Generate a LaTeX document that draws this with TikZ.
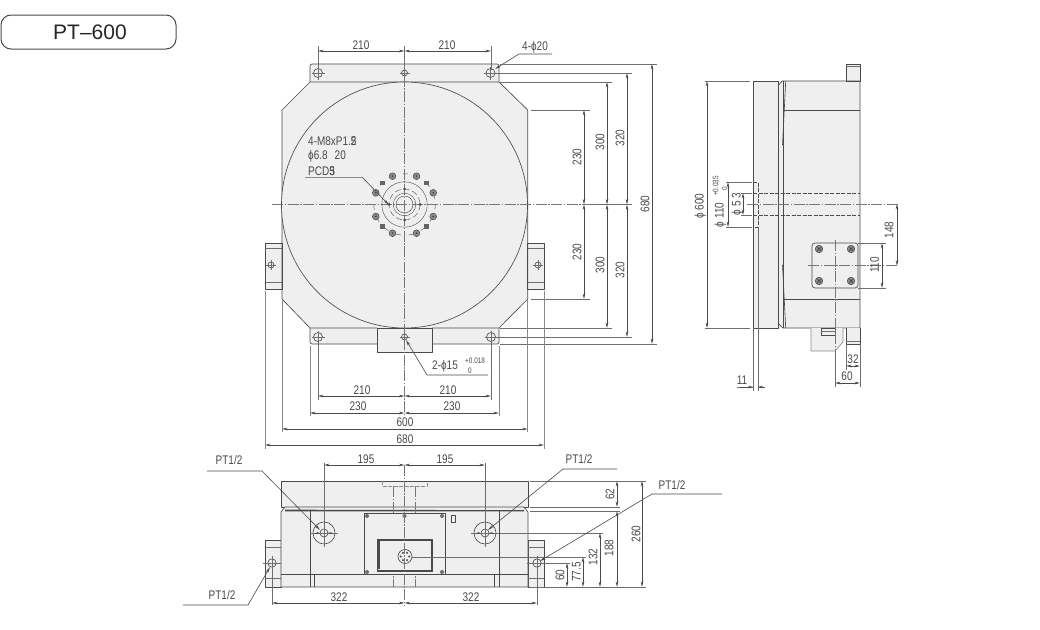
\documentclass[tikz,border=0pt]{standalone}
\usepackage{fontspec}
\setmainfont[FakeStretch=0.8]{Liberation Sans}
\newfontfamily\titlefont{Liberation Sans}
\usetikzlibrary{arrows.meta}
\definecolor{ink}{HTML}{4A4A4A}
\definecolor{body}{HTML}{EFEFEF}
\definecolor{soft}{HTML}{8A8A8A}
\tikzset{
 outl/.style={draw=ink,line width=.65pt,line join=round},
 solid body/.style={outl,fill=body},
 extl/.style={draw=ink!80,line width=.5pt},
 softl/.style={draw=soft,line width=.9pt},
 cen/.style={draw=ink!75,line width=.6pt,dash pattern=on 11pt off 1.5pt on 1.5pt off 1.5pt},
 hid/.style={draw=ink,line width=.6pt,dash pattern=on 4pt off 1.5pt},
 dimn/.style={draw=ink,line width=.6pt,{Stealth[length=5.5pt,width=2.6pt]}-{Stealth[length=5.5pt,width=2.6pt]}},
 lead/.style={draw=ink,line width=.6pt,-{Stealth[length=6pt,width=2.6pt]}},
 lab/.style={text=ink,font=\fontsize{12.5}{13}\selectfont,inner sep=0pt},
 rlab/.style={lab,rotate=90},
 tol/.style={text=ink,font=\fontsize{8}{8.5}\selectfont,inner sep=0pt},
 rtol/.style={tol,rotate=90},
 bolt/.style={draw=ink,line width=.5pt,fill=soft},
 dotb/.style={fill=ink},
}
\begin{document}
\begin{tikzpicture}[x=1pt,y=-1pt]
\useasboundingbox (0,0) rectangle (1040,629);
% title
\draw[draw=ink,line width=1pt,rounded corners=10pt,fill=white] (1,15) rectangle (176,49);
\node[text=black!85,font=\titlefont\fontsize{21}{23}\selectfont,inner sep=0pt] (title) at (90,32) {PT–600};

%%%%% TOP VIEW
\fill[body] (310,82) -- (282,110) -- (282,299) -- (310,328) -- (499,328) -- (527.7,299) -- (527.7,110) -- (499,82) -- cycle;
\draw[solid body] (265,243) rectangle (282,289);
\draw[solid body] (527.7,243) rectangle (544,289);
\draw[extl] (265,248) -- (282,248) (265,282) -- (282,282) (527.7,248) -- (544,248) (527.7,282) -- (544,282);
\draw[solid body,rounded corners=2pt] (310,82) -- (310,64) -- (499,64) -- (499,82);
\draw[solid body,rounded corners=2pt] (310,328) -- (310,344) -- (499,344) -- (499,328);
\draw[outl,fill=body] (377,328) rectangle (432,352);
\draw[outl] (310,82) -- (282,110) -- (282,299) -- (310,328) (499,328) -- (527.7,299) -- (527.7,110) -- (499,82) (310,82) -- (499,82) (310,328) -- (377,328) (432,328) -- (499,328);
\draw[outl,fill=body] (404.5,205) circle (123);
% holes
\foreach \hx/\hy/\hr in {318/73/4.5,404.5/73/3,490.5/73/4.5,318/337/4.5,491/337/4.5,404.5/337/3,271/265/3,538/265/3}{
  \draw[outl] (\hx,\hy) circle (\hr);
  \draw[extl] (\hx-\hr-2,\hy) -- (\hx+\hr+2,\hy) (\hx,\hy-\hr-2) -- (\hx,\hy+\hr+2);
}
% centre lines
\draw[cen] (404.5,60) -- (404.5,416);
\draw[cen] (272,204.5) -- (590,204.5);
% centre detail
\draw[outl,line width=.4pt] (404.5,204.5) circle (8.5) (404.5,204.5) circle (11.3) (404.5,204.5) circle (22.7);
\draw[outl,line width=.4pt,dash pattern=on 6pt off 3pt] (404.5,204.5) circle (15.5);
\draw[outl,line width=.4pt,dash pattern=on 5pt off 8pt] (404.5,204.5) circle (30.7);
\foreach \dx/\dy in {404.5/189,404.5/220,389/204.5,420/204.5}{\fill[dotb] (\dx,\dy) circle (1.5);}
\foreach \ox/\oy in {-12/-28.3,12/-28.3,28.7/-11.7,28.7/12,12/28.7,-12/28.7,-28.7/12,-28.7/-11.7}{
  \draw[bolt] (404.5+\ox,204.5+\oy) circle (3.4);
  \fill[ink] (404.5+\ox,204.5+\oy) circle (1);
}
\foreach \ox/\oy in {-22/-21.7,22/-21.7,22/22,-22/22}{
  \fill[ink!85] (404.5+\ox-2.3,204.5+\oy-2.3) rectangle (404.5+\ox+2.3,204.5+\oy+2.3);
}
% top dims
\draw[extl] (318,46) -- (318,70) (404.5,46) -- (404.5,60) (491,46) -- (491,70);
\draw[dimn] (318,51) -- (404.5,51);
\draw[dimn] (404.5,51) -- (491,51);
\node[lab] (t210a) at (361,45) {210};
\node[lab] (t210b) at (447,45) {210};
\coordinate (h20) at (495,69);
\coordinate (h20b) at (519,54);
\coordinate (h20c) at (552,54);
\draw[lead] (h20c) -- (h20b) -- (h20);
\node[lab] (t420) at (535,47.5) {4-ϕ20};
% note
\node[lab,anchor=west] (n1) at (308,141) {4-M8xP1.\rlap{2}5};
\node[lab,anchor=west] (n2) at (308,156) {ϕ6.8\hspace{7pt}20};
\node[lab,anchor=west] (n3) at (308,171) {PCD\rlap{5}3};
\coordinate (na) at (305,177);
\coordinate (nb) at (362,177);
\coordinate (nc) at (389,205);
\draw[softl] (na) -- (nb);
\draw[lead] (nb) -- (nc);
% right ext lines
\draw[extl] (531,110) -- (590,110) (531,299) -- (590,299);
\draw[extl] (500,82) -- (612,82) (500,328) -- (612,328);
\draw[extl] (496,73) -- (632,73) (496,337) -- (632,337);
\draw[extl] (500,64) -- (657,64) (500,344) -- (657,344);
\draw[extl] (590,204.5) -- (632,204.5);
\draw[dimn] (584,110) -- (584,204.5);
\draw[dimn] (584,204.5) -- (584,299);
\draw[dimn] (607,82) -- (607,204.5);
\draw[dimn] (607,204.5) -- (607,328);
\draw[dimn] (627,73) -- (627,204.5);
\draw[dimn] (627,204.5) -- (627,337);
\draw[dimn] (652,64) -- (652,344);
\node[rlab] (r230a) at (577,157) {230};
\node[rlab] (r230b) at (577,252) {230};
\node[rlab] (r300a) at (600,142) {300};
\node[rlab] (r300b) at (600,265) {300};
\node[rlab] (r320a) at (620,138) {320};
\node[rlab] (r320b) at (620,270) {320};
\node[rlab] (r680) at (645,204) {680};
% bottom dims
\draw[extl] (318,341) -- (318,400) (491,341) -- (491,400);
\draw[softl,line width=.6pt] (310,346) -- (310,416) (499,346) -- (499,416) (282,300) -- (282,432) (527.7,300) -- (527.7,432) (265,291) -- (265,449) (544,291) -- (544,449);
\draw[dimn] (318,396) -- (404.5,396);
\draw[dimn] (404.5,396) -- (491,396);
\draw[dimn] (310,413) -- (404.5,413);
\draw[dimn] (404.5,413) -- (499,413);
\draw[dimn] (282,429) -- (527.7,429);
\draw[dimn] (265,445) -- (544,445);
\node[lab] (b210a) at (362,390) {210};
\node[lab] (b210b) at (448,390) {210};
\node[lab] (b230a) at (358,406) {230};
\node[lab] (b230b) at (452,406) {230};
\node[lab] (b600) at (405,422) {600};
\node[lab] (b680) at (405,439) {680};
\coordinate (ba) at (488,375);
\coordinate (bb) at (427,375);
\coordinate (bc) at (406,340);
\draw[lead] (ba) -- (bb) -- (bc);
\node[lab,anchor=west] (b15) at (432,366) {2-ϕ15};
\node[tol,anchor=west] (b15u) at (465,361) {+0.018};
\node[tol,anchor=west] (b15d) at (468,370.5) {0};

%%%%% SIDE VIEW
\fill[body] (753,81) rectangle (860,328);
\draw[solid body] (846,64) rectangle (860,81);
\draw[extl] (846,66) -- (860,66);
\draw[outl] (753,81) -- (778,81) -- (778,328) -- (753,328) -- cycle;
\draw[outl] (778,86) -- (782,81) -- (860,81) -- (860,328) -- (782.7,328) -- (778,323);
\draw[outl] (783,81) -- (783,328);
\draw[outl] (785.7,81) -- (782.5,145);
\draw[outl] (782.5,265) -- (785.7,328);
\draw[outl] (784,110) -- (860,110) (784,299) -- (860,299);
\draw[solid body,draw=soft] (811,328) -- (811,351) -- (835,351) -- (843,342) -- (843,328);
\draw[solid body] (846,328) -- (846,344) -- (860,344) -- (860,328);
\draw[extl] (846,341) -- (860,341);
\draw[outl] (821,328) rectangle (835,335);
\draw[extl] (821,331.5) -- (835,331.5);
\draw[hid] (753,193) -- (860,193) (753,215) -- (860,215);
\draw[hid] (753,182) -- (758,182) -- (758,227) -- (753,227);
\draw[extl] (758,227) -- (758,391) (753,328) -- (753,391);
% plate
\draw[outl,rounded corners=3pt] (812,243) rectangle (858,288);
\foreach \bx/\by in {819/249,851/249,819/281,851/281}{
  \draw[bolt] (\bx,\by) circle (3.8);
  \draw[ink,line width=.7pt] (\bx-2,\by-2) -- (\bx+2,\by+2) (\bx-2,\by+2) -- (\bx+2,\by-2);
}
\draw[cen] (835,240) -- (835,387);
\draw[cen] (808,265.7) -- (898,265.7);
\draw[cen] (747,204) -- (898,204);
\draw[extl] (835,351) -- (835,387) (846,344) -- (846,370) (860,344) -- (860,387);
% side dims
\draw[extl] (705,81) -- (750,81) (705,328) -- (750,328);
\draw[extl] (726,182) -- (752,182) (726,227) -- (752,227) (741,193) -- (752,193) (741,215) -- (752,215);
\draw[extl] (858,243) -- (886,243) (858,288) -- (886,288);
\draw[dimn] (707,81) -- (707,328);
\draw[dimn] (728,182) -- (728,227);
\draw[dimn] (743,193) -- (743,215);
\draw[dimn] (882,243) -- (882,288);
\draw[dimn] (897,204) -- (897,265.7);
\node[rlab] (s600) at (700.5,206) {ϕ 600};
\node[rlab] (s110) at (720.5,215) {ϕ 110};
\node[rtol] (s110u) at (715.5,186) {+0.035};
\node[rtol] (s110d) at (724.5,189) {0};
\node[rlab] (s53) at (737.5,204) {ϕ 5 3};
\node[rlab] (s110b) at (874.5,265) {110};
\node[rlab] (s148) at (889,230) {148};
\draw[dimn] (846,366) -- (860,366);
\draw[dimn] (835,383) -- (860,383);
\node[lab] (s32) at (853,359) {32};
\node[lab] (s60) at (847,376) {60};
\draw[extl] (737,387) -- (753,387) (758,387) -- (765,387);
\draw[draw=ink,line width=.6pt,-{Stealth[length=5pt,width=2.6pt]}] (740,387) -- (753,387);
\draw[draw=ink,line width=.6pt,-{Stealth[length=5pt,width=2.6pt]}] (765,387) -- (758,387);
\node[lab] (s11) at (742,380) {11};

%%%%% FRONT VIEW
\draw[solid body] (281,481) rectangle (528,507);
\draw[solid body] (265,540) rectangle (281,587);
\draw[solid body] (528,540) rectangle (544,587);
\draw[extl] (265,547) -- (281,547) (265,578) -- (281,578) (528,547) -- (544,547) (528,578) -- (544,578);
\draw[solid body] (281,512) -- (285,507) -- (524,507) -- (528,512) -- (528,587) -- (281,587) -- cycle;
\draw[outl] (285,511) -- (524,511) (285,510) -- (524,510.5);
\draw[outl] (281,574) -- (528,574);
\draw[outl] (310,511) -- (310,587) (314.7,574) -- (314.7,587) (499,511) -- (499,587) (494,574) -- (494,587);
\draw[hid,draw=soft] (382,481) -- (382,486) -- (427,486) -- (427,481);
\draw[cen] (393,486) -- (393,587);
\draw[cen] (415,486) -- (415,587);
% panel
\draw[outl,fill=body] (364,513) rectangle (445,574);
\foreach \sx/\sy in {367/516,404.5/516,442/516,367/572,442/572}{\fill[ink!80] (\sx,\sy) circle (2);}
\draw[outl,fill=body] (377,539) rectangle (432,571);
\draw[draw=ink,line width=.9pt] (377,540) -- (432,540) (377,570.5) -- (432,570.5) (431.5,540) -- (431.5,570);
\draw[draw=ink,line width=1.4pt] (379,541) -- (379,569);
\draw[outl,fill=body] (405,556.5) circle (7);
\foreach \a in {0,60,...,300}{\fill[ink] (405,556.5) ++(\a:4.2) circle (1.1);}
\draw[outl,line width=.6pt] (451,515) rectangle (455,522);
% ports
\foreach \px in {324,485}{
  \draw[outl] (\px,533) circle (11) (\px,533) circle (4);
  \draw[extl] (\px-14,533) -- (\px+14,533) (\px,463) -- (\px,547);
  \foreach \sg in {-1,1}{
    \draw[draw=ink,line width=.5pt,-{Stealth[length=3pt,width=2pt]}] (\px+\sg*9,533) -- (\px+\sg*4.5,533);
  }
}
\foreach \px in {272,537}{
  \draw[outl] (\px,563) circle (4.2);
  \draw[extl] (\px-9,563) -- (\px+9,563) (\px,556) -- (\px,605);
}
\draw[cen] (404.5,465) -- (404.5,606);
% front dims
\draw[dimn] (324,465) -- (404.5,465);
\draw[dimn] (404.5,465) -- (485,465);
\node[lab] (f195a) at (366,459) {195};
\node[lab] (f195b) at (445,459) {195};
\draw[dimn] (272,603) -- (404.5,603);
\draw[dimn] (404.5,603) -- (537,603);
\node[lab] (f322a) at (339,597) {322};
\node[lab] (f322b) at (471,597) {322};
\draw[extl] (530,481) -- (646,481) (530,507) -- (620,507) (530,511) -- (620,511) (500,533) -- (603,533) (412,557) -- (586,557) (527,563) -- (570,563) (530,587) -- (646,587);
\draw[dimn] (567,563) -- (567,587);
\draw[dimn] (583,557) -- (583,587);
\draw[dimn] (600,533) -- (600,587);
\draw[dimn] (617,511) -- (617,587);
\draw[dimn] (617,481) -- (617,507);
\draw[dimn] (642,481) -- (642,587);
\node[rlab] (f60) at (560,575) {60};
\node[rlab] (f77) at (576.5,572) {77.5};
\node[rlab] (f132) at (593,557) {132};
\node[rlab] (f188) at (609,548) {188};
\node[rlab] (f62) at (610,494) {62};
\node[rlab] (f260) at (636,534) {260};
% PT labels
\coordinate (pa1) at (207,471); \coordinate (pa2) at (262,471); \coordinate (pa3) at (320,530);
\draw[lead] (pa1) -- (pa2) -- (pa3);
\node[lab] (p1) at (229,460) {PT1/2};
\coordinate (pb1) at (183,605); \coordinate (pb2) at (248,605); \coordinate (pb3) at (270,567);
\draw[lead] (pb1) -- (pb2) -- (pb3);
\node[lab] (p2) at (222,595) {PT1/2};
\coordinate (pc1) at (617,469); \coordinate (pc2) at (563,469); \coordinate (pc3) at (488,530);
\draw[lead] (pc1) -- (pc2) -- (pc3);
\node[lab] (p3) at (579,459) {PT1/2};
\coordinate (pd1) at (722,494); \coordinate (pd2) at (652,494); \coordinate (pd3) at (540,561);
\draw[lead] (pd1) -- (pd2) -- (pd3);
\node[lab] (p4) at (672,485) {PT1/2};
\end{tikzpicture}
\end{document}
